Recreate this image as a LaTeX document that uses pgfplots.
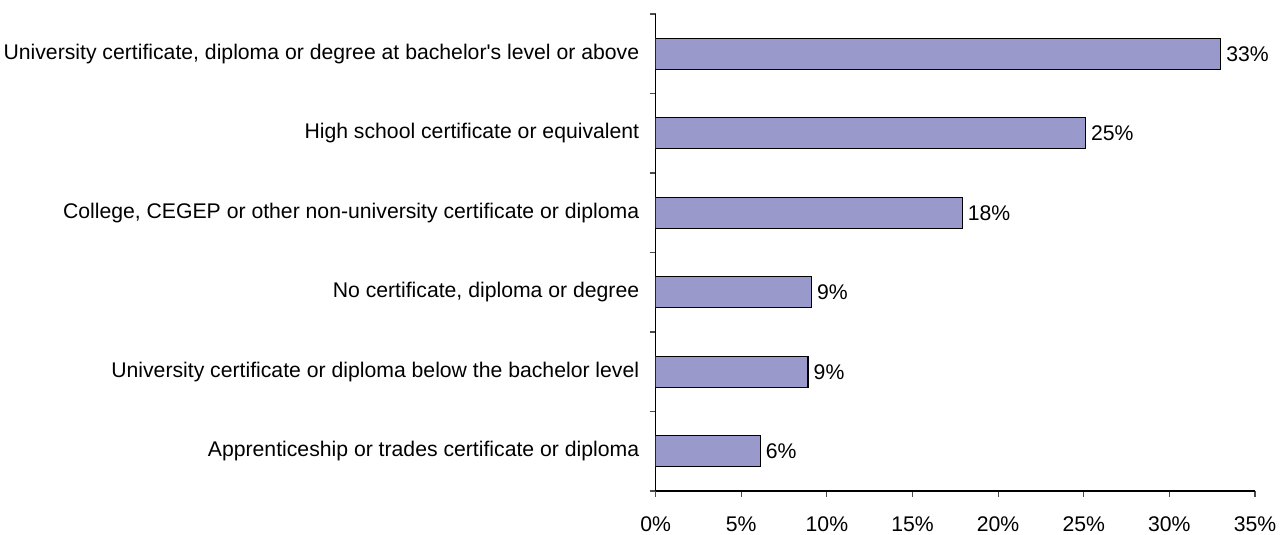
\documentclass[border=0pt]{standalone}
\usepackage{fontspec}
\setmainfont{Liberation Sans}
\usepackage{pgfplots}
\pgfplotsset{compat=1.18}

\definecolor{barfill}{RGB}{153,153,204}

\begin{document}
\fontsize{10.6pt}{12.7pt}\selectfont
\begin{tikzpicture}
\begin{axis}[
    xbar,
    scale only axis,
    width=299.7pt,
    height=238.5pt,
    xmin=0, xmax=35,
    ymin=-0.5, ymax=5.5,
    axis x line*=bottom,
    axis y line*=left,
    axis line style={black, line width=0.6pt},
    xtick={0,5,...,35},
    xticklabel={\pgfmathprintnumber{\tick}\%},
    x tick label style={yshift=-6pt},
    ytick={-0.5,0.5,1.5,2.5,3.5,4.5,5.5},
    yticklabels={},
    extra y ticks={0,1,2,3,4,5},
    extra y tick labels={
        Apprenticeship or trades certificate or diploma,
        University certificate or diploma below the bachelor level,
        {No certificate, diploma or degree},
        {College, CEGEP or other non-university certificate or diploma},
        High school certificate or equivalent,
        {University certificate, diploma or degree at bachelor\textquotesingle s level or above}
    },
    extra y tick style={major tick length=0pt, tick style={draw=none},
        tick label style={xshift=-4.5pt}},
    tick align=outside,
    major tick length=3pt,
    tick style={draw=black!70, line width=0.6pt},
    /pgf/number format/assume math mode=true,
    bar width=15.5pt,
    nodes near coords,
    point meta=explicit symbolic,
    every node near coord/.append style={anchor=west, xshift=-1pt},
]
\addplot[fill=barfill, draw=black, line width=0.6pt] coordinates {
    (6.1,0) [6\%]
    (8.9,1) [9\%]
    (9.1,2) [9\%]
    (17.9,3) [18\%]
    (25.1,4) [25\%]
    (33.0,5) [33\%]
};
\end{axis}
\pgfresetboundingbox
\path ([xshift=-327.85pt,yshift=-22pt]current axis.south west)
    rectangle ([xshift=16pt,yshift=7pt]current axis.north east);
\end{tikzpicture}
\end{document}
